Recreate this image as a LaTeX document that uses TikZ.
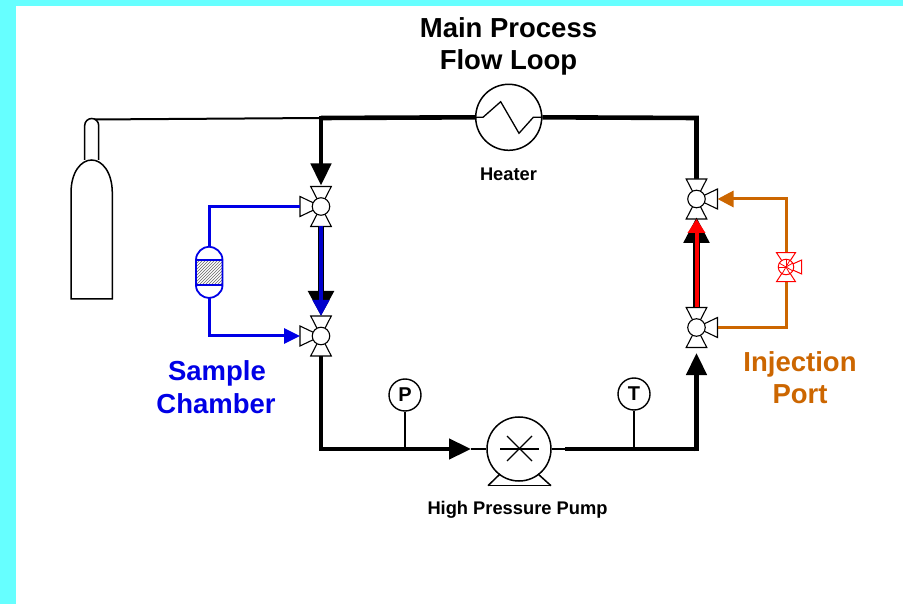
\documentclass[tikz,border=0pt]{standalone}
\usepackage{fontspec}
\setmainfont{Liberation Sans}
\usetikzlibrary{arrows.meta,patterns}
\definecolor{bgcyan}{RGB}{102,255,255}
\definecolor{sampleblue}{RGB}{0,0,230}
\definecolor{darkblue}{RGB}{0,0,204}
\definecolor{portorange}{RGB}{204,102,0}
\tikzset{
  x=1pt,y=-1pt,
  valvecirc/.style={circle,draw=black,fill=white,line width=1.1pt,minimum size=17.5pt,inner sep=0pt},
  redcirc/.style={circle,draw=red,fill=white,line width=1pt,minimum size=15.5pt,inner sep=0pt},
  gauge/.style={circle,draw=black,fill=white,line width=1.4pt,minimum size=32pt,inner sep=0pt,font=\bfseries\fontsize{20}{20}\selectfont},
  equip/.style={circle,draw=black,fill=white,line width=1.5pt,inner sep=0pt},
  mainpipe/.style={draw=black,line width=4.6pt,line join=miter},
  thin pipe/.style={draw=black,line width=1.5pt},
  bluepipe/.style={draw=sampleblue,line width=3pt},
  orangepipe/.style={draw=portorange,line width=3pt},
  tip big/.style={-{Triangle[length=22pt,width=20pt]}},
  title/.style={font=\bfseries\fontsize{27.5}{27.5}\selectfont,inner sep=0pt,anchor=base},
  small/.style={font=\bfseries\fontsize{18.3}{18.3}\selectfont,inner sep=0pt,anchor=base},
}
% \vlv{name}{x}{y}{side sign}: three-way valve with ball at centre
\newcommand{\vlv}[4]{%
  \coordinate (#1c) at (#2,#3);
  \coordinate (#1t) at (#2,#3-20);
  \coordinate (#1b) at (#2,#3+20);
  \coordinate (#1s) at (#2+#4*21,#3);
  \draw[fill=white,line width=1.1pt] (#2-10.3,#3-20) -- (#2+10.3,#3-20) -- (#2,#3) -- cycle;
  \draw[fill=white,line width=1.1pt] (#2-10.3,#3+20) -- (#2+10.3,#3+20) -- (#2,#3) -- cycle;
  \draw[fill=white,line width=1.1pt] (#2+#4*21,#3-10) -- (#2+#4*21,#3+10) -- (#2,#3) -- cycle;
  \node[valvecirc] (#1) at (#2,#3) {};
}
\begin{document}
\begin{tikzpicture}
\useasboundingbox (0,0) rectangle (903,604);
\fill[bgcyan] (0,0) rectangle (903,604);
\fill[white] (16,6) rectangle (903,604);

% named points
\coordinate (tl) at (321,118);
\coordinate (tr) at (696.5,118);
\coordinate (bl) at (321,449);
\coordinate (br) at (696.5,449);
\coordinate (gasout) at (93,119.5);
\coordinate (bltop) at (209,206.5);
\coordinate (blbot) at (209,336);
\coordinate (ortop) at (786,199);
\coordinate (orbot) at (786,327.5);

% heater and pump
\node[equip,minimum size=66pt] (heater) at (508.7,117.3) {};
\node[equip,minimum size=64pt] (pump) at (519,449) {};
\coordinate (pumpin) at (471,449);
\coordinate (pumpout) at (565,449);

% gas line
\draw[draw=black,line width=2pt] (gasout) -- (tl);

% main loop
\draw[mainpipe] (heater.west) -- (tl);
\draw[mainpipe] (heater.east) -- (tr) -- (696.5,180);
\draw[mainpipe,tip big] (321,115.7) -- (321,185.5);

% valves
\vlv{va}{321}{206.5}{-1}
\vlv{vb}{321}{336}{-1}
\vlv{vc}{696.5}{199}{1}
\vlv{vd}{696.5}{327.5}{1}

% lines between valves
\draw[draw=black,line width=6.8pt,-{Triangle[length=25pt,width=24.6pt]}] (vab) -- (321,316);
\draw[draw=darkblue,line width=4pt,-{Triangle[length=16pt,width=16pt]}] (vab) -- (321,316);
\draw[draw=black,line width=7pt,-{Triangle[length=26pt,width=24.6pt]}] (vdt) -- (696.5,217);
\draw[draw=red,line width=4pt,-{Triangle[length=14pt,width=17pt]}] (vdt) -- (696.5,219);

% lower loop
\draw[mainpipe] (vbb) -- (bl) -- (400,449);
\draw[mainpipe,tip big] (321,449) -- (pumpin);
\draw[thin pipe] (pumpin) -- (pump.west);
\draw[thin pipe] (pump.east) -- (pumpout);
\draw[mainpipe] (pumpout) -- (br);
\draw[mainpipe,tip big] (696.5,451.3) -- (696.5,353);

% pump details
\draw[line width=1.5pt] (488,485.7) -- (551,485.7);
\draw[line width=1.5pt] (488,485.7) -- (500,474);
\draw[line width=1.5pt] (551,485.7) -- (538,474);
\draw[line width=1.2pt] (500,449) -- (539,449);
\draw[line width=1.2pt] (507,436) -- (532,461);
\draw[line width=1.2pt] (532,436) -- (507,461);

% heater detail
\draw[line width=1.3pt] (heater.west) -- (483,117.3) -- (500.7,101.7) -- (519,133.3) -- (533.3,117.3) -- (heater.east);

% gauges
\node[gauge] (gp) at (405,395) {P};
\node[gauge] (gt) at (634,394) {T};
\coordinate (gpb) at (405,449);
\coordinate (gtb) at (634,449);
\draw[line width=1.3pt] (gp) -- (gpb);
\draw[line width=1.3pt] (gt) -- (gtb);

% gas cylinder
\draw[line width=1.5pt,fill=white] (84.7,160) -- (84.7,125.5) arc[start angle=180,end angle=360,x radius=7,y radius=7] -- (98.7,160);
\draw[line width=1.5pt,fill=white] (71,193) .. controls (71,172) and (81,160) .. (91.7,160) .. controls (102,160) and (112.3,172) .. (112.3,193) -- (112.3,299) -- (71,299) -- cycle;

% sample chamber
\fill[pattern=north east lines,pattern color=black!60] (196,260) rectangle (222.5,285.3);
\draw[draw=sampleblue,line width=1.8pt] (196,260) -- (196,285.3) .. controls (196,293) and (203,298) .. (209,298) .. controls (215,298) and (222.5,293) .. (222.5,285.3) -- (222.5,260) .. controls (222.5,252) and (215,246.7) .. (209,246.7) .. controls (203,246.7) and (196,252) .. (196,260) -- cycle;
\draw[draw=sampleblue,line width=1.8pt] (196,260) -- (222.5,260);
\draw[draw=sampleblue,line width=1.8pt] (196,285.3) -- (222.5,285.3);
\coordinate (chtop) at (209,246.7);
\coordinate (chbot) at (209,298);
\draw[bluepipe] (chtop) -- (bltop) -- (vas);
\draw[bluepipe,-{Triangle[length=16pt,width=15pt]}] (chbot) -- (blbot) -- (vbs);

% injection port
\coordinate (rt) at (786,252.7);
\coordinate (rb) at (786,281.7);
\draw[orangepipe,-{Triangle[length=16pt,width=16pt]}] (rt) -- (ortop) -- (vcs);
\draw[orangepipe] (rb) -- (orbot) -- (vds);

% red valve
\draw[draw=red,fill=white,line width=1pt] (776.5,252.7) -- (795.5,252.7) -- (786,267) -- cycle;
\draw[draw=red,fill=white,line width=1pt] (776.5,281.7) -- (795.5,281.7) -- (786,267) -- cycle;
\draw[draw=red,fill=white,line width=1pt] (801.7,260) -- (801.7,274) -- (786,267) -- cycle;
\node[redcirc] (rv) at (786,267) {};
\foreach \a in {-60,-30,30,60,90,150,-120,180}
  \draw[draw=red,line width=.8pt] (rv.center) -- (rv.\a);

% labels
\node[title] (t1) at (508.5,38) {Main Process};
\node[title] (t2) at (508.5,70) {Flow Loop};
\node[small] (l1) at (508.5,181) {Heater};
\node[small] (l2) at (517.5,514) {High Pressure Pump};
\node[title,text=sampleblue] (s1) at (217,380) {Sample};
\node[title,text=sampleblue] (s2) at (216,413) {Chamber};
\node[title,text=portorange] (i1) at (800,371) {Injection};
\node[title,text=portorange] (i2) at (800,403) {Port};
\end{tikzpicture}
\end{document}
